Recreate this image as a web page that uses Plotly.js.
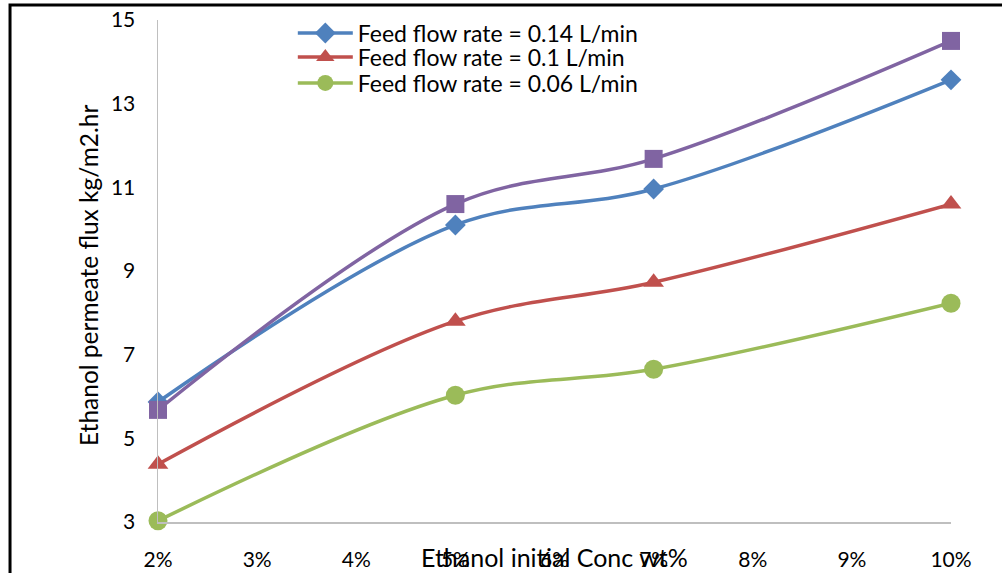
<!DOCTYPE html>
<html>
<head>
<meta charset="utf-8">
<script src="https://cdn.plot.ly/plotly-3.0.1.min.js"></script>
<style>
html,body{margin:0;padding:0;background:#fff;}
#chart{width:1002px;height:573px;}
</style>
</head>
<body>
<div id="chart"></div>
<script>
var conc = [0.02, 0.05, 0.07, 0.10];
var flux014 = [5.87, 10.1, 10.96, 13.57];
var flux010 = [4.38, 7.8, 8.73, 10.6];
var flux006 = [3.03, 6.03, 6.65, 8.23];
var fluxExtra = [5.68, 10.6, 11.68, 14.5];
var seriesNames = ["Feed flow rate = 0.14 L/min", "Feed flow rate = 0.1 L/min", "Feed flow rate = 0.06 L/min"];
var xTitle = "Ethanol initial Conc wt%";
var yTitle = "Ethanol permeate flux kg/m2.hr";

var FONT = "Lato, 'Open Sans', sans-serif";

function tr(y, name, color, symbol, size, showleg, leg) {
  return {
    x: conc, y: y, name: name, type: 'scatter', mode: 'lines+markers',
    line: {color: color, width: 3.5, shape: 'spline', smoothing: 1},
    marker: {color: color, symbol: symbol, size: size},
    showlegend: showleg, legend: leg, cliponaxis: false
  };
}

var data = [
  tr(flux014, seriesNames[0], '#4F81BD', 'diamond', 16, true, 'legend'),
  tr(flux010, seriesNames[1], '#C0504D', 'triangle-up', 18, true, 'legend2'),
  tr(flux006, seriesNames[2], '#9BBB59', 'circle', 19, true, 'legend3'),
  tr(fluxExtra, '', '#8064A2', 'square', 18, false, 'legend')
];

function leg(yc) {
  return {
    x: 0.17, y: yc, xanchor: 'left', yanchor: 'middle',
    bgcolor: 'rgba(0,0,0,0)', font: {family: FONT, size: 23, color: '#000'},
    tracegroupgap: 0, itemwidth: 55, borderwidth: 0
  };
}

var layout = {
  width: 1002, height: 573,
  margin: {l: 158, r: 51, t: 20, b: 51, autoexpand: false},
  paper_bgcolor: '#fff', plot_bgcolor: '#fff',
  font: {family: FONT, size: 21, color: '#000'},
  showlegend: true,
  legend: leg(0.974),
  legend2: leg(0.926),
  legend3: leg(0.8745),
  xaxis: {
    range: [0.02, 0.10], dtick: 0.01, tick0: 0.02, tickformat: '.0%',
    showgrid: false, zeroline: false, showline: true, linecolor: '#BFBFBF', linewidth: 1.5,
    ticks: '', ticklabelstandoff: 18, tickfont: {family: FONT, size: 21}
  },
  yaxis: {
    range: [3, 15], dtick: 2, tick0: 3,
    showgrid: false, zeroline: false, showline: true, linecolor: '#BFBFBF', linewidth: 1.5,
    ticks: '', ticklabelstandoff: 17, tickfont: {family: FONT, size: 21}
  },
  annotations: [
    {text: xTitle, xref: 'paper', yref: 'paper', x: 0.5, y: -0.0697, xanchor: 'center', yanchor: 'middle',
     showarrow: false, font: {family: FONT, size: 25}},
    {text: yTitle, xref: 'paper', yref: 'paper', x: -0.0883, y: 0.492, xanchor: 'center', yanchor: 'middle',
     textangle: -90, showarrow: false, font: {family: FONT, size: 24.5}}
  ],
  shapes: [
    {type: 'rect', xref: 'paper', yref: 'paper', x0: -0.1866, x1: 1.1, y0: -0.2, y1: 1.0299,
     line: {color: '#000', width: 3}, fillcolor: 'rgba(0,0,0,0)', layer: 'below'}
  ]
};

Plotly.newPlot('chart', data, layout, {displayModeBar: false, staticPlot: true});
</script>
</body>
</html>
